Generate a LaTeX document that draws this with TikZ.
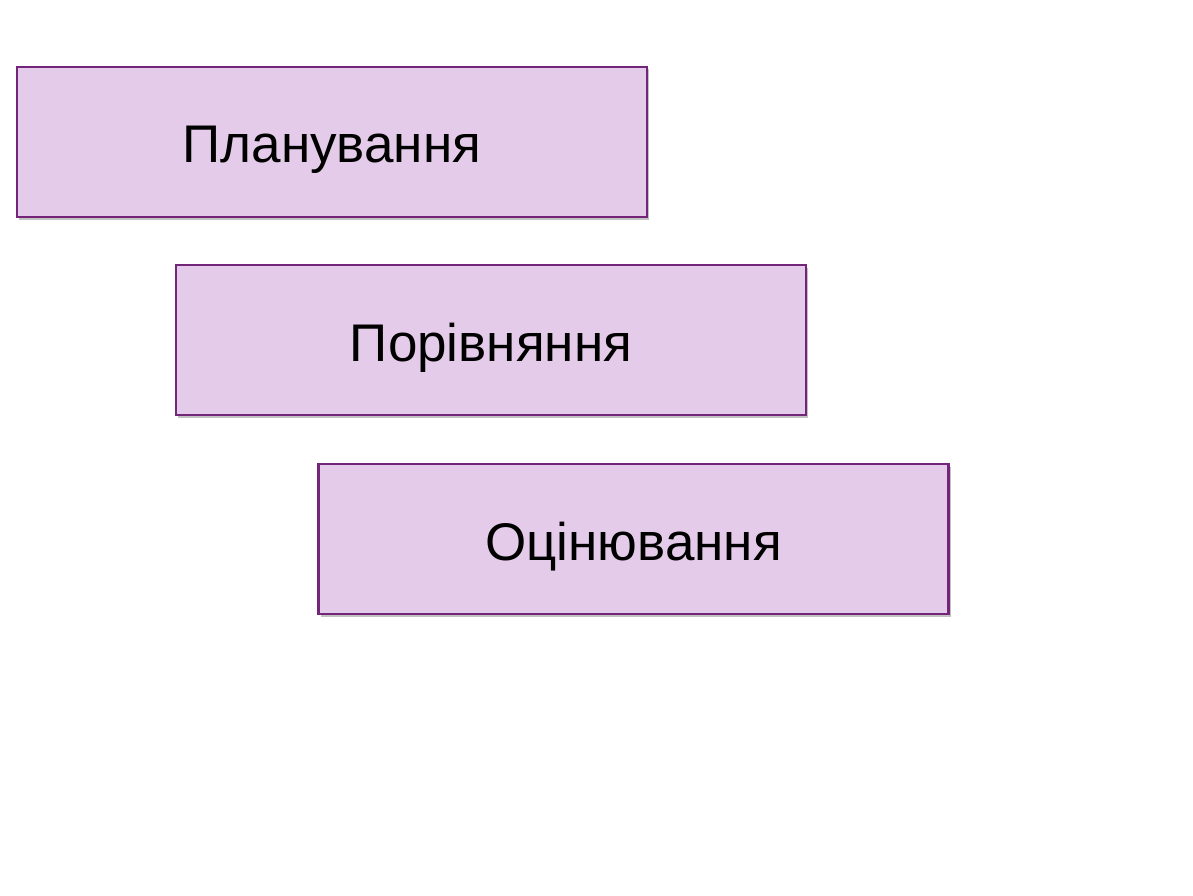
\documentclass[tikz,border=0pt]{standalone}
\usepackage{fontspec}
\setmainfont{Liberation Sans}
\usetikzlibrary{positioning, shadows}

\definecolor{lilac}{HTML}{E5CBEA}
\definecolor{plum}{HTML}{732679}

\tikzset{
	stage/.style={draw=plum, line width=2.6pt, fill=lilac, minimum width=630pt, minimum height=150pt,
		inner sep=0pt, text height=50pt, text depth=8pt, font=\fontsize{53}{60}\selectfont,
		drop shadow={shadow xshift=2pt, shadow yshift=-2.5pt, fill=black!40, opacity=0.6}}
}

\begin{document}
\begin{tikzpicture}[x=1pt, y=-1pt]
	\useasboundingbox (0,0) rectangle (1193,896);
	\node at (332,142) [stage] (plan) {Планування};
	\node at (491,340) [stage] (compare) {Порівняння};
	\node at (633.5,539) [stage] (assess) {Оцінювання};
\end{tikzpicture}
\end{document}
